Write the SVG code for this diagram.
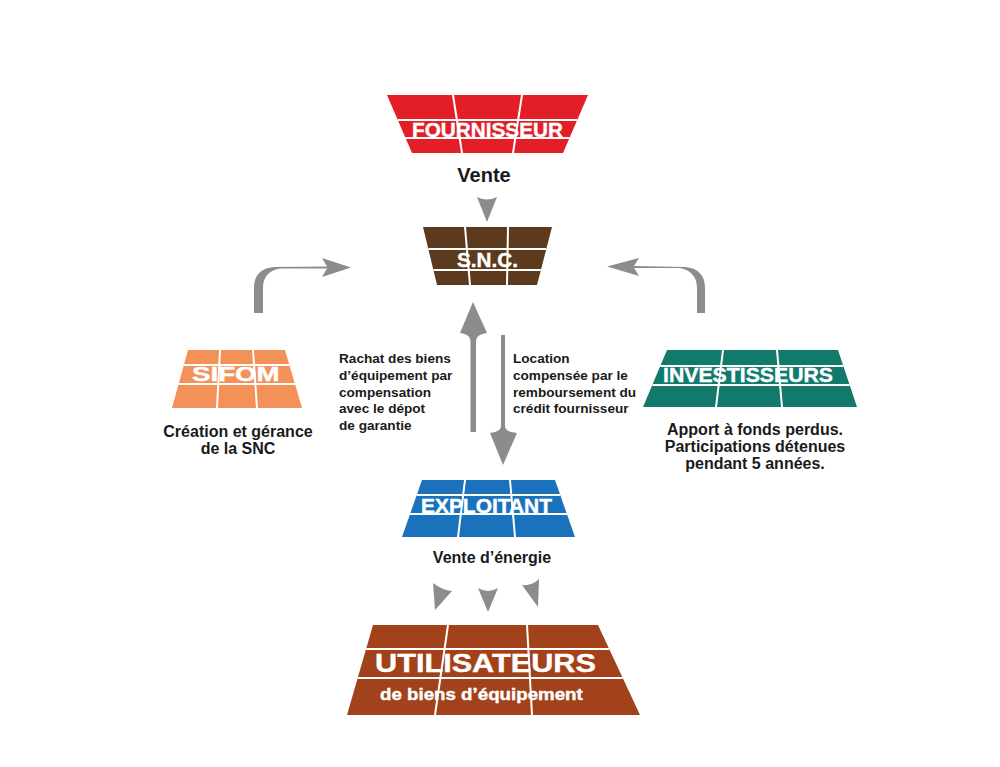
<svg xmlns="http://www.w3.org/2000/svg" width="1000" height="767" viewBox="0 0 1000 767">
<style>
.div{stroke:#ffffff;stroke-width:2;fill:none}
.lbl{font-family:"Liberation Sans",Arial,sans-serif;font-weight:bold;fill:#ffffff;stroke:#ffffff;stroke-width:0.4}
.cap{font-family:"Liberation Sans",Arial,sans-serif;font-weight:bold;fill:#1a1a1a}
.arr{fill:#8c8c8c}
</style>
<rect width="1000" height="767" fill="#ffffff"/>
<g id="fournisseur">
<polygon points="387,95 588,95 563,153 412,153" fill="#E41E26"/>
<line class="div" x1="397.8" y1="120" x2="577.2" y2="120"/>
<line class="div" x1="405.5" y1="138" x2="569.5" y2="138"/>
<line class="div" x1="453" y1="95" x2="462" y2="153"/>
<line class="div" x1="522" y1="95" x2="513" y2="153"/>
<text class="lbl" x="412" y="137" font-size="20.5" textLength="151" lengthAdjust="spacingAndGlyphs">FOURNISSEUR</text>
<text class="cap" x="484" y="182" font-size="20" text-anchor="middle">Vente</text>
</g>
<g id="snc">
<polygon points="423,227 552,227 537,285 437,285" fill="#5B3A1D"/>
<line class="div" x1="428.3" y1="249" x2="546.3" y2="249"/>
<line class="div" x1="433.4" y1="270" x2="540.9" y2="270"/>
<line class="div" x1="465" y1="227" x2="470" y2="285"/>
<line class="div" x1="508" y1="227" x2="507" y2="285"/>
<text class="lbl" x="457" y="267" font-size="20" textLength="61" lengthAdjust="spacingAndGlyphs">S.N.C.</text>
</g>
<g id="sifom">
<polygon points="188,350 285,350 302,408 172,408" fill="#F39158"/>
<line class="div" x1="183.9" y1="365" x2="289.4" y2="365"/>
<line class="div" x1="178.6" y1="384" x2="295" y2="384"/>
<line class="div" x1="220" y1="350" x2="217" y2="408"/>
<line class="div" x1="253" y1="350" x2="257" y2="408"/>
<text class="lbl" transform="translate(192,381) scale(1.42,1)" font-size="19.5">SIFOM</text>
<text class="cap" x="238" y="437" font-size="16" text-anchor="middle">Création et gérance</text>
<text class="cap" x="238" y="454" font-size="16" text-anchor="middle">de la SNC</text>
</g>
<g id="investisseurs">
<polygon points="667,350 838,350 857,407 643,407" fill="#127A6A"/>
<line class="div" x1="660.3" y1="366" x2="843.3" y2="366"/>
<line class="div" x1="652.3" y1="385" x2="849.7" y2="385"/>
<line class="div" x1="723" y1="350" x2="716" y2="407"/>
<line class="div" x1="777" y1="350" x2="782" y2="407"/>
<text class="lbl" x="663" y="382" font-size="21" textLength="170" lengthAdjust="spacingAndGlyphs">INVESTISSEURS</text>
<text class="cap" x="755" y="435" font-size="16" text-anchor="middle">Apport à fonds perdus.</text>
<text class="cap" x="755" y="452" font-size="16" text-anchor="middle">Participations détenues</text>
<text class="cap" x="755" y="469" font-size="16" text-anchor="middle">pendant 5 années.</text>
</g>
<g id="exploitant">
<polygon points="422,480 555,480 575,537 402,537" fill="#1A72BD"/>
<line class="div" x1="416.7" y1="495" x2="560.3" y2="495"/>
<line class="div" x1="410.1" y1="514" x2="566.9" y2="514"/>
<line class="div" x1="465" y1="480" x2="458" y2="537"/>
<line class="div" x1="510" y1="480" x2="515" y2="537"/>
<text class="lbl" x="421" y="513" font-size="20.5" textLength="131" lengthAdjust="spacingAndGlyphs">EXPLOITANT</text>
<text class="cap" x="492" y="563" font-size="16" text-anchor="middle">Vente d’énergie</text>
</g>
<g id="utilisateurs">
<polygon points="373,625 598,625 640,715 347,715" fill="#A1421A"/>
<line class="div" x1="366.1" y1="649" x2="609.2" y2="649"/>
<line class="div" x1="357.7" y1="678" x2="622.7" y2="678"/>
<line class="div" x1="448" y1="625" x2="435" y2="715"/>
<line class="div" x1="527" y1="625" x2="532" y2="715"/>
<text class="lbl" transform="translate(375,672) scale(1.18,1)" font-size="26">UTILISATEURS</text>
<text class="lbl" transform="translate(380,700) scale(1.17,1)" font-size="16">de biens d’équipement</text>
</g>
<g id="connector-labels">
<text class="cap" font-size="13.6" x="339" y="363">Rachat des biens</text>
<text class="cap" font-size="13.6" x="339" y="380">d’équipement par</text>
<text class="cap" font-size="13.6" x="339" y="397">compensation</text>
<text class="cap" font-size="13.6" x="339" y="413">avec le dépot</text>
<text class="cap" font-size="13.6" x="339" y="430">de garantie</text>
<text class="cap" font-size="13.6" x="513" y="363">Location</text>
<text class="cap" font-size="13.6" x="513" y="380">compensée par le</text>
<text class="cap" font-size="13.6" x="513" y="397">remboursement du</text>
<text class="cap" font-size="13.6" x="513" y="413">crédit fournisseur</text>
</g>
<g id="connectors">
<path class="arr" d="M477,197 Q487,202 497,197 L487,222 Z"/>
<path class="arr" d="M254,313 L254,288 C254,276 260,268 274,267 L327,266.5 L322,258 L351,267.5 L322,277 L327,268.5 L280,268.5 C270,270 263,276 263,288 L263,313 Z"/>
<path class="arr" d="M705,313 L705,288 C705,276 699,268 685,267 L634,266 L639,258 L607,266.5 L639,276 L634,268 L680,268 C690,270 697,276 697,288 L697,313 Z"/>
<path class="arr" d="M470.5,432 L470.5,342 C470.5,337 468,334 460,333 L473,302 L487,333 C479,334 476,337 476,342 L476,432 Z"/>
<path class="arr" d="M501,335 L505,335 L505,425 C505,430 508,432 517,433 L503,465 L490,433 C498,432 501,430 501,425 Z"/>
<path class="arr" d="M433,583 Q442,590 452,591 L435,610 Z"/>
<path class="arr" d="M478,588 Q488,594 498,588 L488,612 Z"/>
<path class="arr" d="M522,585 Q532,586 539,579 L538,607 Z"/>
</g>
</svg>
